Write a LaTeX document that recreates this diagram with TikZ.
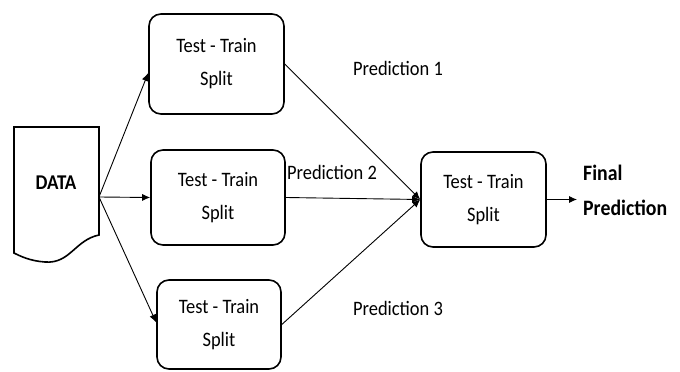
\documentclass[tikz,border=0pt]{standalone}
\usepackage{fontspec}
\setmainfont{Carlito}[FakeStretch=0.9]
\usetikzlibrary{arrows.meta,calc}
\begin{document}
\begin{tikzpicture}[x=1pt,y=1pt,
  box/.style={draw, line width=1.6pt, rounded corners=12pt, align=center,
    font=\fontsize{20.5}{33}\selectfont, inner sep=0pt},
  conn/.style={line width=0.9pt},
  arr/.style={conn, -{Latex[length=8pt,width=7pt]}},
  lbl/.style={font=\fontsize{20.5}{24}\selectfont, inner sep=0pt}]
\useasboundingbox (0,0) rectangle (680,372);
% document shape
\draw[line width=1.6pt] (14,245) -- (99,245) -- (99,137)
  .. controls (75,132) and (70,108) .. (45,110)
  .. controls (30,111) and (20,116) .. (14,119) -- cycle;
\node[font=\bfseries\fontsize{21}{24}\selectfont, inner sep=0pt] (data) at (56,189) {DATA};
\coordinate (dout) at (99,175);
% boxes
\node[box, minimum width=135pt, minimum height=100pt] (b1) at (216.5,308) {Test - Train\\Split};
\node[box, minimum width=134pt, minimum height=95pt] (b2) at (218,174.5) {Test - Train\\Split};
\node[box, minimum width=124pt, minimum height=89pt] (b3) at (219,47.5) {Test - Train\\Split};
\node[box, minimum width=125pt, minimum height=95pt] (f) at (483.5,172.5) {Test - Train\\Split};
% arrows from data
\draw[arr] (dout) -- ($(b1.west)+(0,-9)$);
\draw[arr] (dout) -- (b2.west);
\draw[arr] (dout) -- ($(b3.west)+(0,2)$);
% predictions
\draw[arr] (b1.east) -- (f.west);
\draw[arr] (b2.east) -- (f.west);
\draw[arr] (b3.east) -- (f.west);
\coordinate (fout) at (577,172.5);
\draw[arr] (f.east) -- (fout);
% labels
\node[lbl] (p1) at (398,304) {Prediction 1};
\node[lbl] (p2) at (332,200) {Prediction 2};
\node[lbl] (p3) at (398,64) {Prediction 3};
\node[anchor=west, align=left, inner sep=0pt, font=\bfseries\fontsize{22}{35}\selectfont] (fp) at (583,182) {Final\\Prediction};
\end{tikzpicture}
\end{document}
